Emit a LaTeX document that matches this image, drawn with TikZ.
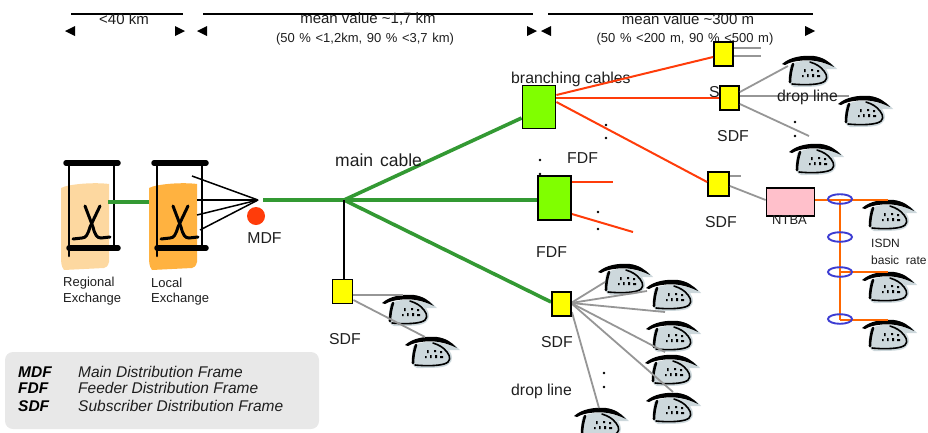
\documentclass[tikz,border=0pt]{standalone}
\usepackage{fontspec}
\setmainfont{Liberation Sans}
\definecolor{cgreen}{RGB}{51,153,51}
\definecolor{cred}{RGB}{255,60,10}
\definecolor{cgray}{RGB}{150,150,150}
\definecolor{corange}{RGB}{255,102,0}
\definecolor{cblue}{RGB}{60,60,210}
\definecolor{lime}{RGB}{128,255,0}
\definecolor{cyel}{RGB}{255,255,0}
\definecolor{cpink}{RGB}{255,192,203}
\definecolor{phonegray}{RGB}{205,216,220}
\definecolor{peach}{RGB}{253,216,160}
\definecolor{amber}{RGB}{255,178,64}
\definecolor{legendgray}{RGB}{232,232,232}
\definecolor{ink}{RGB}{30,30,30}
\tikzset{
  x=1pt,y=-1pt,
  maincable/.style={draw=cgreen,line width=3.6pt},
  redline/.style={draw=cred,line width=2pt},
  grayline/.style={draw=cgray,line width=1.8pt},
  orangeline/.style={draw=corange,line width=2.4pt},
  blackline/.style={draw=black,line width=1.5pt},
  sdfbox/.style={draw=black,line width=1.8pt,fill=cyel,inner sep=0pt},
  fdfbox/.style={draw=black,line width=1.8pt,fill=lime,inner sep=0pt},
  label16/.style={font=\fontsize{15.8}{18}\selectfont,text=ink,inner sep=0pt},
  labelmain/.style={font=\fontsize{17.5}{20}\selectfont\spaceskip 7pt\relax,text=ink,inner sep=0pt},
  labeltop/.style={font=\fontsize{15}{18}\selectfont,text=ink,inner sep=0pt},
  labelsub/.style={font=\fontsize{13}{15}\selectfont\spaceskip 4.6pt\relax,text=ink,inner sep=0pt},
  label13/.style={font=\fontsize{13}{15}\selectfont,text=ink,inner sep=0pt},
  label12/.style={font=\fontsize{12}{14}\selectfont,text=ink,inner sep=0pt},
  legendb/.style={font=\fontsize{15.5}{17}\selectfont\bfseries\itshape,inner sep=0pt,anchor=west},
  legendi/.style={font=\fontsize{15.5}{17}\selectfont\itshape,text=ink,inner sep=0pt,anchor=west},
  tri/.style={fill=black,draw=none},
  coil/.style={draw=cblue,line width=1.9pt,fill=none},
  dotmark/.style={circle,fill=black,inner sep=0pt,minimum size=2.6pt},
  phone/.pic={
    \fill[phonegray] (8,9) .. controls (16,4) and (30,3) .. (40,7) -- (50,8) -- (55,13) -- (44,13)
        .. controls (48,18) and (48,24) .. (44,27) .. controls (40,31) and (30,31) .. (12,31)
        .. controls (8,30) and (6,26) .. (7,18) -- cycle;
    \fill[black] (0,8) .. controls (8,1) and (20,-1) .. (32,0) .. controls (40,1) and (47,5) .. (52,11)
        .. controls (40,5) and (28,3.5) .. (20,4.5) .. controls (14,5) and (8,6) .. (3,9) -- cycle;
    \draw[black,line width=2.6pt,line cap=round] (11,8) .. controls (9,14) and (8,20) .. (8,26);
    \draw[black,line width=1.6pt,line cap=round] (10,28) .. controls (20,29) and (32,29) .. (39,27)
        .. controls (46,25) and (46,20) .. (42,15) .. controls (38,10) and (34,8) .. (28,6);
    \fill[black] (22,13) rectangle (23.5,16) (29,13) rectangle (31,15) (35,14) rectangle (37,16)
        (20,19) rectangle (21.5,21) (25,18) rectangle (26.5,21) (30,18) rectangle (32,21) (35,19) rectangle (38,21);
  },
  exchange/.pic={
    \draw[line width=2.6pt,line cap=round] (3,0) -- (3,93);
    \draw[line width=2.6pt,line cap=round] (48,0) -- (48,85);
    \draw[line width=5.5pt,line cap=round] (0,0) -- (52,0);
    \draw[line width=5.5pt,line cap=round] (3,85) -- (52,85);
    \draw[line width=3pt,line cap=round] (19,43) -- (27,64) .. controls (29,72) and (31,75) .. (35,75) -- (44,74);
    \draw[line width=3pt,line cap=round] (34,43) -- (24,64) .. controls (22,71) and (20,75) .. (16,75) -- (7,76);
  },
}
\begin{document}
\begin{tikzpicture}
\useasboundingbox (0,0) rectangle (928,432);
\clip (0,0) rectangle (928,432);

% legend
\node[draw=none,fill=legendgray,rounded corners=8pt,minimum width=314pt,minimum height=77pt,inner sep=0pt] (legend) at (162,390.5) {};
\node[legendb] (lm) at (18,372) {MDF};
\node[legendb] (lf) at (18,388) {FDF};
\node[legendb] (ls) at (18,406) {SDF};
\node[legendi] (tm) at (78,372) {Main Distribution Frame};
\node[legendi] (tf) at (78,388) {Feeder Distribution Frame};
\node[legendi] (ts) at (78,406) {Subscriber Distribution Frame};

% dimension marks
\foreach \a/\b/\n in {71/183/a,203/533/b,548/813/c}
  \draw[line width=1.3pt] (\a,14) -- (\b,14);
\foreach \t in {75,207,551} \fill[tri] (\t-10,31) -- (\t,26) -- (\t,36) -- cycle;
\foreach \t in {175,527,805} \fill[tri] (\t+10,31) -- (\t,26) -- (\t,36) -- cycle;
\node[labeltop] (d1) at (124,19) {<40 km};
\node[labeltop] (d2) at (368,19) {mean value \textasciitilde1,7 km};
\node[labelsub] (d3) at (365,39) {(50 \% <1,2km, 90 \% <3,7 km)};
\node[labeltop] (d4) at (688,19) {mean value \textasciitilde300 m};
\node[labelsub] (d5) at (685,39) {(50 \% <200 m, 90 \% <500 m)};

% exchange buildings
\fill[peach] (61,188) .. controls (68,184) and (95,182) .. (109,184) -- (109,262) .. controls (108,266) and (106,268) .. (104,268) -- (64,270) .. controls (61,266) and (61,262) .. (61,255) -- cycle;
\fill[amber] (149,188) .. controls (156,184) and (183,182) .. (197,184) -- (197,262) .. controls (196,266) and (194,268) .. (192,268) -- (152,270) .. controls (149,266) and (149,262) .. (149,255) -- cycle;
\pic (rx) at (66,163) {exchange};
\pic (lx) at (154,163) {exchange};

\coordinate (jr) at (108,202);
\coordinate (jl) at (149,202);
\draw[maincable] (jr) -- (jl);

% MDF wires
\coordinate (mdfp) at (258,200);
\coordinate (w1) at (192,176);
\coordinate (w2) at (197,200);
\coordinate (w3) at (197,215);
\coordinate (w4) at (200,230);
\foreach \w in {w1,w2,w3,w4} \draw[blackline] (\w) -- (mdfp);
\node[circle,fill=cred,draw=none,minimum width=18pt,minimum height=16pt,inner sep=0pt] (mdf) at (256,216) {};
\node[label16] (mdft) at (264.5,238.5) {MDF};

% main cables
\coordinate (mc0) at (263,200);
\coordinate (mc) at (344,200);
\node[sdfbox,minimum width=20pt,minimum height=24pt] (sa) at (342.5,291.5) {};
\node[sdfbox,minimum width=19pt,minimum height=24pt] (sb) at (561.5,304) {};
\node[fdfbox,minimum width=33pt,minimum height=43pt] (fa) at (539,107) {};
\node[fdfbox,minimum width=33pt,minimum height=44pt] (fb) at (554.5,198) {};
\draw[maincable] (mc0) -- (mc);
\draw[maincable] (mc) -- (fa.west |- 0,118);
\draw[maincable] (mc) -- (fb.west |- 0,200);
\draw[maincable] (mc) -- (sb.west |- 0,302);
\draw[blackline] (mc) -- (mc |- sa.north);

% FDF red lines, free ends
\coordinate (fb1) at (613,182);
\coordinate (fb2) at (633,232);
\node[label16,anchor=west] (bc) at (511,79) {branching cables};
\node[labelmain,anchor=west] (mct) at (335,160) {main cable};
\node[label16] (sdfh) at (725,92) {SDF};
\node[sdfbox,minimum width=19pt,minimum height=24pt] (sc) at (723.5,54) {};
\node[sdfbox,minimum width=19pt,minimum height=24pt] (sd) at (729.5,98) {};
\node[sdfbox,minimum width=21pt,minimum height=24pt] (se) at (718.5,184) {};
\node[draw=black,line width=1.8pt,fill=cpink,inner sep=0pt,minimum width=48pt,minimum height=28pt] (ntba) at (790.5,202) {};

\draw[redline] (fa.east |- 0,95) -- (sc.west |- 0,57);
\draw[redline] (fa.east |- 0,98) -- (sd.west |- 0,98);
\draw[redline] (fa.east |- 0,102) -- (se.west |- 0,182);
\draw[redline] (fb.east |- 0,182) -- (fb1);
\draw[redline] (fb.east |- 0,214) -- (fb2);

% drop lines
\coordinate (g1) at (761,48);
\coordinate (g2) at (761,56);
\coordinate (g3) at (788,66);
\coordinate (g4) at (849,96);
\coordinate (g5) at (809,136);
\coordinate (g6) at (741,176);
\draw[grayline] (sc.east |- 0,48) -- (g1);
\draw[grayline] (sc.east |- 0,56) -- (g2);
\draw[grayline] (sd.east |- 0,92) -- (g3);
\draw[grayline] (sd.east |- 0,96) -- (g4);
\draw[grayline] (sd.east |- 0,104) -- (g5);
\draw[grayline] (se.east |- 0,176) -- (g6);
\draw[grayline] (se.east |- 0,186) -- (ntba.west |- 0,200);

% telephones
\foreach \px/\py in {782/56,838/96,789/144,862/200,862/272,862/320,598/264,646/280,646/321,645/355,646/393,574/408,382/295,405/337}
  \pic at (\px,\py) {phone};

\coordinate (h1) at (605,282);
\coordinate (h2) at (647,291);
\coordinate (h3) at (665,312);
\coordinate (h4) at (665,352);
\coordinate (h5) at (673,392);
\coordinate (h6) at (599,408);
\coordinate (hs) at (571,303);
\foreach \h in {h1,h2,h3,h4,h5} \draw[grayline] (hs) -- (\h);
\draw[grayline] (sb.east |- 0,312) -- (h6);
\coordinate (k1) at (403,295);
\coordinate (k2) at (425,337);
\draw[grayline] (sa.east |- 0,295) -- (k1);
\draw[grayline] (sa.east |- 0,300) -- (k2);

% redraw boxes above their lines
\node[sdfbox,minimum width=20pt,minimum height=24pt] (sa2) at (sa) {};
\node[sdfbox,minimum width=19pt,minimum height=24pt] (sb2) at (sb) {};
\node[fdfbox,minimum width=33pt,minimum height=43pt] (fa2) at (fa) {};
\node[fdfbox,minimum width=33pt,minimum height=44pt] (fb2n) at (fb) {};

% ISDN bus
\coordinate (bus0) at (840,200);
\coordinate (bus1) at (840,272);
\coordinate (bus2) at (840,320);
\coordinate (t0) at (888,200);
\coordinate (t1) at (888,272);
\coordinate (t2) at (888,320);
\draw[orangeline] (ntba.east |- 0,200) -- (t0);
\draw[orangeline] (bus0) -- (bus2);
\draw[orangeline] (bus1) -- (t1);
\draw[orangeline] (bus2) -- (t2);
\foreach \ey in {199,237,272,319} \draw[coil] (840,\ey) ellipse [x radius=12,y radius=4.8];

% labels
\node[label13] (nt) at (789.5,220) {NTBA};
\node[label16,anchor=west] (l1) at (567,158) {FDF};
\node[label16,anchor=west] (l2) at (536,252) {FDF};
\node[label16,anchor=west] (l3) at (717,136) {SDF};
\node[label16,anchor=west] (l4) at (705,222) {SDF};
\node[label16,anchor=west] (l5) at (329,339) {SDF};
\node[label16,anchor=west] (l6) at (541,342) {SDF};
\node[label16,anchor=west] (l7) at (777,97) {drop line};
\node[label16,anchor=west] (l8) at (511,391) {drop line};
\node[label12,anchor=west] (i1) at (871,243) {ISDN};
\node[label12,anchor=west] (i2) at (871,260) {basic\ \ rate};
\node[label13,anchor=west] (r1) at (63,283) {Regional};
\node[label13,anchor=west] (r2) at (63,299) {Exchange};
\node[label13,anchor=west] (r3) at (151,283) {Local};
\node[label13,anchor=west] (r4) at (151,299) {Exchange};

% continuation dots
\foreach \dx/\dy in {606/125,606/138,540/160,540/174,598/212,598/229,795/122,795/136,604/373,604/387}
  \node[dotmark] at (\dx,\dy) {};
\end{tikzpicture}
\end{document}
